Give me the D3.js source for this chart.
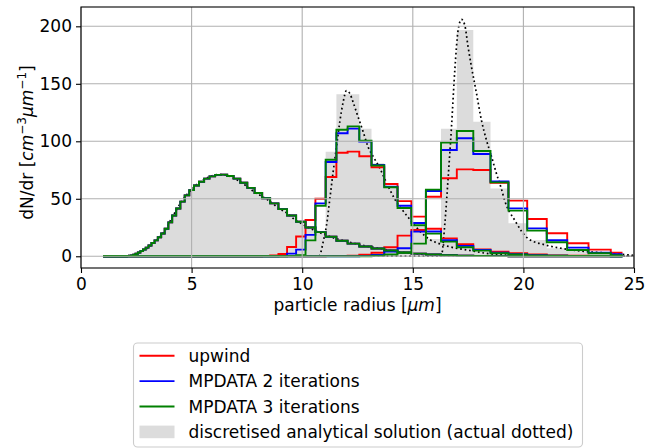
<!DOCTYPE html>
<html>
<head>
<meta charset="utf-8">
<script src="https://cdn.jsdelivr.net/npm/d3@7"></script>
<style>
  body { margin: 0; background: #fff; }
  svg { font-family: "DejaVu Sans", sans-serif; }
</style>
</head>
<body>
<script>
// bin edges of the radius grid [um] (last step stops at the last cell centre)
var edges = [1.000, 1.044, 1.090, 1.137, 1.187, 1.239, 1.294, 1.350, 1.410, 1.472,
             1.536, 1.603, 1.674, 1.747, 1.824, 1.904, 1.987, 2.074, 2.165, 2.260,
             2.359, 2.463, 2.571, 2.684, 2.801, 2.924, 3.052, 3.186, 3.326, 3.472,
             3.624, 3.783, 3.949, 4.122, 4.303, 4.491, 4.688, 4.894, 5.108, 5.332,
             5.566, 5.810, 6.065, 6.331, 6.609, 6.898, 7.201, 7.517, 7.846, 8.190,
             8.550, 8.925, 9.316, 9.725, 10.151, 10.597, 11.061, 11.546, 12.053, 12.581,
             13.133, 13.709, 14.310, 14.937, 15.592, 16.276, 16.990, 17.735, 18.513, 19.324,
             20.172, 21.056, 21.980, 22.944, 23.950, 24.48];
var n_bins = 75;

// values per bin, listed from a first bin index; bins outside are zero
// t = 0 : initial spectrum (all schemes equal the analytic one)
var t0_first = 17;
var t0_analytic = [0.15, 0.4, 0.8, 1.4, 2.2, 3.3, 4.5, 5.9, 7.5, 9.4,
                   11.5, 13.8, 16.5, 19.8, 24.0, 29.5, 35.5, 41.5, 47.5, 53.0,
                   57.5, 61.5, 64.8, 67.5, 69.5, 70.8, 71.0, 69.8, 67.5, 64.0,
                   59.5, 55.0, 50.5, 46.0, 41.0, 35.5, 30.0, 25.0, 21.0, 17.0,
                   13.5, 11.0, 8.5, 6.8, 5.0, 3.3, 2.3, 1.5, 0.9, 0.5, 0.3, 0.1];

// second output time
var t1_first = 49;
var t1_analytic = [0, 0, 0, 0, 0, 0, 6, 91, 141, 141, 111, 81, 60, 41, 26, 15, 9, 5.5, 3, 1.5, 0.7, 0.3];
var t1_upwind   = [0.2, 0.7, 2.0, 8.0, 17.2, 31.5, 50, 69, 90, 91, 87, 77.4, 62.9, 48, 34.5, 24, 15.6, 10.4, 6, 4, 2.6, 1.5, 0.8, 0.4, 0.2, 0.1];
var t1_mpdata2  = [0, 0, 0.3, 2.3, 5.8, 18.6, 46, 82, 107, 111, 99.7, 79.4, 60.5, 44, 29, 21.5, 14, 9, 5.5, 3.2, 1.9, 1.0, 0.5, 0.2, 0.1, 0];
var t1_mpdata3  = [0, 0, 0, 0.3, 1.0, 13.8, 44, 84, 110, 113, 100.5, 79, 60, 42, 27, 19.7, 12.7, 7.8, 4.9, 2.6, 1.5, 0.8, 0.4, 0.2, 0.1, 0];

// third output time
var t2_first = 56;
var t2_analytic = [0, 0, 0, 0, 0, 0, 0, 0, 0, 111, 196.8, 117, 59, 28.7, 14.2, 7, 4.6, 2.6, 1.7];
var t2_upwind   = [0.1, 0.3, 0.6, 1.3, 3.1, 7.8, 18, 22.9, 51.8, 67.8, 75.6, 75, 64, 48.4, 32.4, 20, 11.3, 5.8, 3.1];
var t2_mpdata2  = [0, 0, 0, 0.3, 1.1, 4, 7, 21.4, 56.8, 92.4, 102.6, 89, 65, 41.7, 24.3, 14, 7.5, 3.2, 1.7];
var t2_mpdata3  = [0, 0, 0, 0, 0.5, 1.5, 3, 11, 58, 98.8, 109, 91.6, 64.3, 39.7, 22.3, 12.2, 5.5, 2.6, 1];

// "actual" analytic solutions (dotted), [r, dN/dr]
var t0_actual = [[1.0, 0], [2.0, 0], [2.3, 0.5], [2.6, 2.7], [3.0, 7], [3.3, 11.6], [3.65, 18.8], [3.87, 24.6],
                 [4.1, 33.3], [4.32, 40.5], [4.55, 47.8], [4.78, 53.6], [5.0, 58], [5.3, 63.7], [5.68, 68],
                 [6.2, 71], [6.6, 70.5], [6.88, 68], [7.18, 65], [7.49, 60.9], [7.79, 56.5], [8.17, 52.2],
                 [8.54, 47.8], [8.92, 42], [9.3, 37.7], [9.67, 31.8], [10.05, 27.5], [10.5, 23], [11.0, 19],
                 [11.5, 15.5], [12.0, 13], [12.5, 10.5], [13.0, 8.5], [13.5, 6.8], [14.0, 5], [14.5, 3.5],
                 [15.0, 2.4], [15.5, 1.6], [16.0, 1], [17.0, 0.4], [18.0, 0.1], [19.0, 0], [25.0, 0]];
var t1_actual = [[1.0, 0], [10.75, 0], [10.8, 1], [10.95, 12.7], [11.1, 27], [11.25, 50], [11.4, 73.6],
                 [11.55, 95], [11.7, 117], [11.85, 134], [12.0, 144], [12.15, 141.7], [12.3, 134], [12.53, 121],
                 [12.76, 108], [12.98, 95], [13.2, 87], [13.5, 77], [13.74, 67], [13.96, 58], [14.19, 49.5],
                 [14.5, 41], [14.87, 32], [15.17, 25], [15.47, 19], [15.77, 14.5], [16.15, 11.3], [16.6, 8.6],
                 [17.6, 5], [18.3, 2.6], [19.2, 1.1], [20.0, 0.5], [21.0, 0.2], [22.0, 0], [25.0, 0]];
var t2_actual = [[1.0, 0], [16.25, 0], [16.3, 1], [16.45, 28.7], [16.6, 69], [16.75, 112.7], [16.9, 162],
                 [17.05, 196.8], [17.2, 206], [17.35, 201], [17.5, 182], [17.65, 165], [17.88, 141.7],
                 [18.1, 118.5], [18.33, 101], [18.56, 86.6], [18.78, 72], [19.0, 59], [19.16, 48],
                 [19.6, 31.6], [20.2, 15.6], [21.0, 9.8], [21.7, 7], [22.9, 4], [24.0, 2.6], [24.6, 1.4], [25.0, 0.8]];

var x_ticks = [0, 5, 10, 15, 20, 25];
var y_ticks = [0, 50, 100, 150, 200];

var legend_items = [
  {label: "upwind", color: "red", kind: "line"},
  {label: "MPDATA 2 iterations", color: "blue", kind: "line"},
  {label: "MPDATA 3 iterations", color: "green", kind: "line"},
  {label: "discretised analytical solution (actual dotted)", color: "#dcdcdc", kind: "patch"}
];

function full(first, vals) {
  var out = [];
  for (var i = 0; i < n_bins; i++) {
    var j = i - first;
    out.push(j >= 0 && j < vals.length ? vals[j] : 0);
  }
  return out;
}

var chart_w = 670, chart_h = 448;
var ax_l = 81, ax_r = 634, ax_t = 7, ax_b = 268;

var x = d3.scaleLinear().domain([0, 25]).range([ax_l, ax_r]);
var y = d3.scaleLinear().domain([-10.2, 216.8]).range([ax_b, ax_t]);

var svg = d3.select("body").append("svg")
  .attr("width", chart_w).attr("height", chart_h)
  .style("display", "block");

svg.append("defs").append("clipPath").attr("id", "plot_clip")
  .append("rect").attr("x", ax_l).attr("y", ax_t).attr("width", ax_r - ax_l).attr("height", ax_b - ax_t);

var plot = svg.append("g").attr("clip-path", "url(#plot_clip)");

function stepPoints(vals) {
  var pts = vals.map(function(v, i) { return [edges[i], v]; });
  pts.push([edges[n_bins], vals[n_bins - 1]]);
  return pts;
}

// grey bars of the discretised analytic solutions (drawn as one stepped area each, no seams)
var barArea = d3.area().x(function(d) { return x(d[0]); })
  .y0(function() { return y(0); }).y1(function(d) { return y(d[1]); })
  .curve(d3.curveStepAfter);
[full(t0_first, t0_analytic), full(t1_first, t1_analytic), full(t2_first, t2_analytic)].forEach(function(vals) {
  var pts = stepPoints(vals);
  pts[pts.length - 1] = [edges[n_bins], 0];
  plot.append("path").attr("d", barArea(pts)).attr("fill", "#dcdcdc").attr("stroke", "none");
});

// grid
var grid = svg.append("g");
grid.selectAll("line.gx").data(x_ticks).enter().append("line")
  .attr("x1", function(d) { return x(d); }).attr("x2", function(d) { return x(d); })
  .attr("y1", ax_t).attr("y2", ax_b)
  .attr("stroke", "#b0b0b0").attr("stroke-width", 1.1);
grid.selectAll("line.gy").data(y_ticks).enter().append("line")
  .attr("y1", function(d) { return y(d); }).attr("y2", function(d) { return y(d); })
  .attr("x1", ax_l).attr("x2", ax_r)
  .attr("stroke", "#b0b0b0").attr("stroke-width", 1.1);

// dotted actual solutions
var smooth = d3.line().x(function(d) { return x(d[0]); }).y(function(d) { return y(d[1]); })
  .curve(d3.curveMonotoneX);
[t0_actual, t1_actual, t2_actual].forEach(function(pts) {
  plot.append("path").attr("d", smooth(pts))
    .attr("fill", "none").attr("stroke", "black")
    .attr("stroke-width", 1.7).attr("stroke-dasharray", "1.7,2.8");
});

// numerical solutions as steps
var step = d3.line().x(function(d) { return x(d[0]); }).y(function(d) { return y(d[1]); })
  .curve(d3.curveStepAfter);
var schemes = [
  {color: "red", series: [full(t0_first, t0_analytic), full(t1_first, t1_upwind), full(t2_first, t2_upwind)]},
  {color: "blue", series: [full(t0_first, t0_analytic), full(t1_first, t1_mpdata2), full(t2_first, t2_mpdata2)]},
  {color: "green", series: [full(t0_first, t0_analytic), full(t1_first, t1_mpdata3), full(t2_first, t2_mpdata3)]}
];
schemes.forEach(function(s) {
  s.series.forEach(function(vals) {
    plot.append("path").attr("d", step(stepPoints(vals)))
      .attr("fill", "none").attr("stroke", s.color)
      .attr("stroke-width", 1.9).attr("stroke-linejoin", "miter");
  });
});

// spines
svg.append("rect").attr("x", ax_l).attr("y", ax_t).attr("width", ax_r - ax_l).attr("height", ax_b - ax_t)
  .attr("fill", "none").attr("stroke", "black").attr("stroke-width", 1.1);

// axes
var xAxis = svg.append("g").attr("transform", "translate(0," + ax_b + ")")
  .call(d3.axisBottom(x).tickValues(x_ticks).tickSize(5).tickPadding(5).tickFormat(d3.format("d")));
var yAxis = svg.append("g").attr("transform", "translate(" + ax_l + ",0)")
  .call(d3.axisLeft(y).tickValues(y_ticks).tickSize(5).tickPadding(4).tickFormat(d3.format("d")));
[xAxis, yAxis].forEach(function(a) {
  a.select(".domain").remove();
  a.selectAll(".tick line").attr("stroke", "black").attr("stroke-width", 1.1);
  a.selectAll(".tick text").attr("font-size", 17).attr("fill", "black")
    .attr("font-family", "DejaVu Sans, sans-serif");
});

// axis labels
var xl = svg.append("text").attr("x", (ax_l + ax_r) / 2).attr("y", 311)
  .attr("text-anchor", "middle").attr("font-size", 17);
xl.append("tspan").text("particle radius [");
xl.append("tspan").attr("font-style", "italic").text("\u03bcm");
xl.append("tspan").text("]");

var yl = svg.append("text").attr("transform", "translate(32.5,142.5) rotate(-90)")
  .attr("text-anchor", "middle").attr("font-size", 17);
yl.append("tspan").text("dN/dr [");
yl.append("tspan").attr("font-style", "italic").text("cm");
yl.append("tspan").attr("font-size", 12).attr("dy", -7).text("\u22123");
yl.append("tspan").attr("font-style", "italic").attr("dy", 7).text("\u03bcm");
yl.append("tspan").attr("font-size", 12).attr("dy", -7).text("\u22121");
yl.append("tspan").attr("dy", 7).text("]");

// legend
var lg = svg.append("g");
lg.append("rect").attr("x", 133.5).attr("y", 343).attr("width", 449).attr("height", 104).attr("rx", 4)
  .attr("fill", "white").attr("fill-opacity", 0.8).attr("stroke", "#cccccc").attr("stroke-width", 1.1);
legend_items.forEach(function(d, i) {
  var cy = 355.7 + i * 25.4;
  if (d.kind === "line") {
    lg.append("line").attr("x1", 139.5).attr("x2", 174.5).attr("y1", cy).attr("y2", cy)
      .attr("stroke", d.color).attr("stroke-width", 1.9);
  } else {
    lg.append("rect").attr("x", 139.5).attr("y", cy - 6.3).attr("width", 35).attr("height", 12.6)
      .attr("fill", d.color);
  }
  lg.append("text").attr("x", 188.5).attr("y", cy).attr("dy", "0.36em")
    .attr("font-size", 17).text(d.label);
});
</script>
</body>
</html>
